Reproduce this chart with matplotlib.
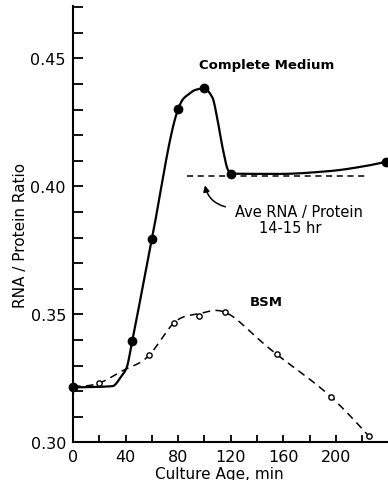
import numpy as np
import matplotlib
matplotlib.use("Agg")
from matplotlib import pyplot as plt
from matplotlib.ticker import MultipleLocator

# measured points (filled = complete medium, open = BSM)
cm_age = [0, 45, 60, 80, 100, 120, 238]
cm_ratio = [0.3215, 0.3395, 0.3794, 0.4302, 0.4383, 0.405, 0.4096]
bsm_age = [20, 58, 77, 96, 116, 155, 196, 225]
bsm_ratio = [0.3232, 0.3341, 0.3468, 0.3495, 0.351, 0.3344, 0.3179, 0.3025]

# hand drawn curves
cm_curve_x = [0, 30, 37, 40.7, 45, 60, 80, 83.7, 88, 93, 99.5, 106, 110.3, 114, 117.7,
              120, 157, 195, 222.6, 238]
cm_curve_y = [0.3215, 0.322, 0.326, 0.329, 0.3395, 0.3794, 0.4302, 0.4341, 0.436, 0.4377,
              0.4383, 0.4348, 0.425, 0.4146, 0.4067, 0.405, 0.4049, 0.406, 0.408, 0.4096]
bsm_curve_x = [0, 20, 40, 58, 77, 96, 106, 116, 135, 155, 196, 225]
bsm_curve_y = [0.322, 0.3232, 0.3286, 0.3341, 0.3468, 0.3503, 0.3515, 0.3508, 0.3432,
               0.3344, 0.3179, 0.3025]

ave_ratio = 0.404
ave_span = [87, 223]


def pchip(x, y, xs):
    """monotone cubic through the traced points"""
    x = np.asarray(x, float)
    y = np.asarray(y, float)
    h = np.diff(x)
    d = np.diff(y) / h
    m = np.zeros_like(y)
    m[0] = d[0]
    m[-1] = d[-1]
    for k in range(1, len(x) - 1):
        if d[k - 1] * d[k] > 0:
            w1 = 2 * h[k] + h[k - 1]
            w2 = h[k] + 2 * h[k - 1]
            m[k] = (w1 + w2) / (w1 / d[k - 1] + w2 / d[k])
    i = np.clip(np.searchsorted(x, xs) - 1, 0, len(x) - 2)
    t = (xs - x[i]) / h[i]
    h00 = 2 * t**3 - 3 * t**2 + 1
    h10 = t**3 - 2 * t**2 + t
    h01 = -2 * t**3 + 3 * t**2
    h11 = t**3 - t**2
    return h00 * y[i] + h10 * h[i] * m[i] + h01 * y[i + 1] + h11 * h[i] * m[i + 1]


def natural_spline(x, y, xs):
    x = np.asarray(x, float)
    y = np.asarray(y, float)
    n = len(x)
    h = np.diff(x)
    A = np.zeros((n, n))
    b = np.zeros(n)
    A[0, 0] = A[-1, -1] = 1
    for k in range(1, n - 1):
        A[k, k - 1] = h[k - 1]
        A[k, k] = 2 * (h[k - 1] + h[k])
        A[k, k + 1] = h[k]
        b[k] = 6 * ((y[k + 1] - y[k]) / h[k] - (y[k] - y[k - 1]) / h[k - 1])
    M = np.linalg.solve(A, b)
    i = np.clip(np.searchsorted(x, xs) - 1, 0, n - 2)
    a = x[i + 1] - xs
    c = xs - x[i]
    return (M[i] * a**3 / (6 * h[i]) + M[i + 1] * c**3 / (6 * h[i])
            + (y[i] / h[i] - M[i] * h[i] / 6) * a
            + (y[i + 1] / h[i] - M[i + 1] * h[i] / 6) * c)


fig = plt.figure(figsize=(3.88, 4.81), dpi=100)
ax = fig.add_axes([0.188, 0.078, 0.81, 0.907])

xs = np.linspace(cm_curve_x[0], cm_curve_x[-1], 800)
ax.plot(xs, pchip(cm_curve_x, cm_curve_y, xs), color="black", lw=1.6)
xs2 = np.linspace(bsm_curve_x[0], bsm_curve_x[-1], 800)
ax.plot(xs2, natural_spline(bsm_curve_x, bsm_curve_y, xs2), color="black", lw=1.1,
        dashes=(5, 3.5))

ax.plot(cm_age, cm_ratio, "o", color="black", ms=6, clip_on=False)
ax.plot(bsm_age, bsm_ratio, "o", mfc="white", mec="black", mew=1.0, ms=3.8,
        clip_on=False)

ax.plot(ave_span, [ave_ratio, ave_ratio], color="black", lw=1.1, dashes=(4, 3))

ax.text(147, 0.4478, "Complete Medium", ha="center", va="center", fontsize=9.5,
        fontweight="bold")
ax.text(172, 0.3904, "Ave RNA / Protein", ha="center", va="center", fontsize=10.5)
ax.text(165.5, 0.3841, "14-15 hr", ha="center", va="center", fontsize=10.5)
ax.text(147, 0.3552, "BSM", ha="center", va="center", fontsize=9.5,
        fontweight="bold")
ax.annotate("", xy=(100, 0.4015), xytext=(118, 0.3918),
            arrowprops=dict(arrowstyle="-|>", color="black", lw=1.1,
                            mutation_scale=9,
                            connectionstyle="arc3,rad=-0.35"))

ax.set_xlim(0, 239)
ax.set_ylim(0.30, 0.4704)
ax.xaxis.set_minor_locator(MultipleLocator(20))
ax.yaxis.set_minor_locator(MultipleLocator(0.01))
ax.set_yticks([0.30, 0.35, 0.40, 0.45])
ax.set_yticklabels(["0.30", "0.35", "0.40", "0.45"])
ax.set_xticks([0, 40, 80, 120, 160, 200])
ax.set_xticklabels(["0", "40", "80", "120", "160", "200"])
ax.tick_params(axis="y", which="both", direction="in", length=7, width=1.3,
               labelsize=11.5, pad=5)
ax.tick_params(axis="x", which="both", direction="in", length=5, width=1.3,
               labelsize=11.5, pad=4.5)

for s in ["top", "right"]:
    ax.spines[s].set_visible(False)
for s in ["left", "bottom"]:
    ax.spines[s].set_linewidth(1.5)

ax.set_xlabel("Culture Age, min", fontsize=11)
ax.xaxis.set_label_coords(0.467, -0.053)
ax.set_ylabel("RNA / Protein Ratio", fontsize=11)
ax.yaxis.set_label_coords(-0.143, 0.477)

fig.savefig("out.png", dpi=100)
